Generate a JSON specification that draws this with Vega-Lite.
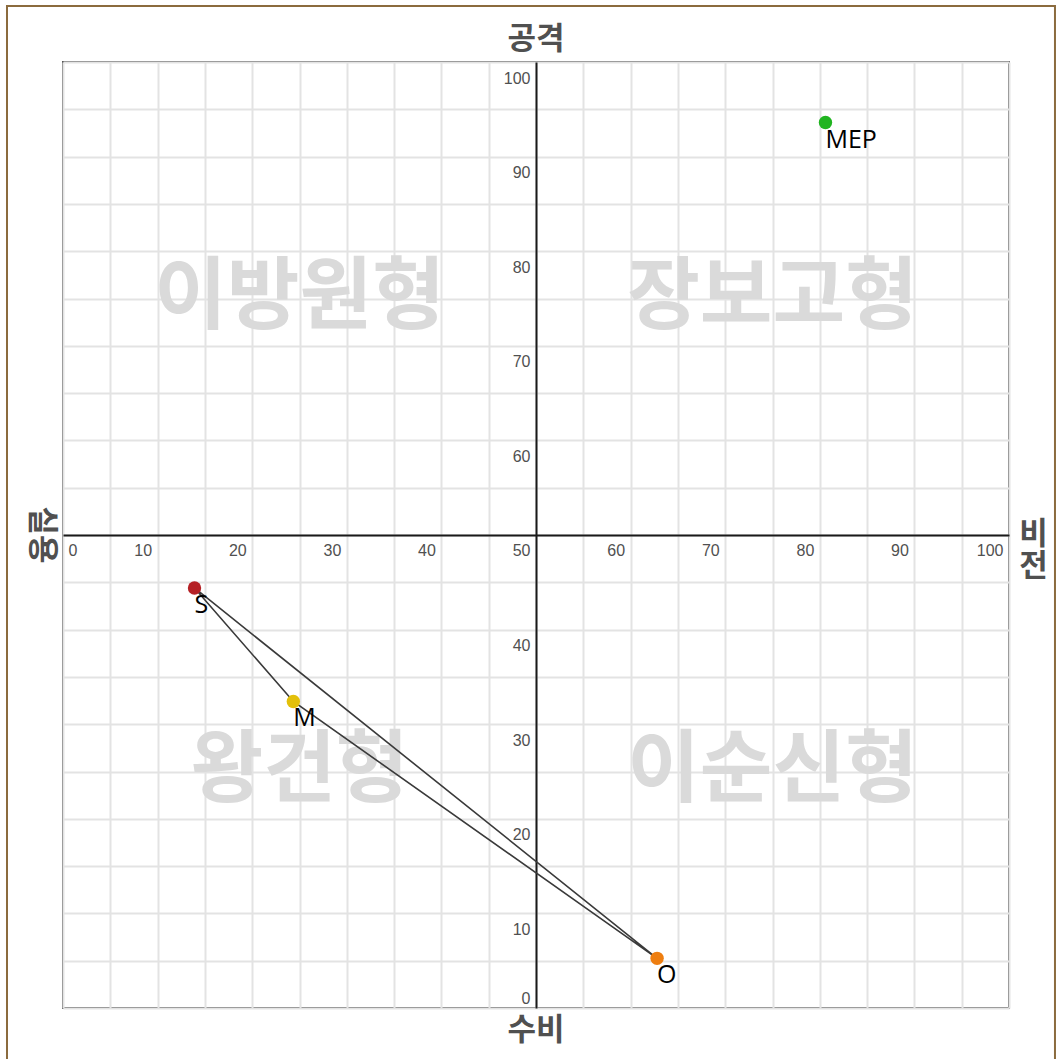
{
  "$schema": "https://vega.github.io/schema/vega-lite/v6.json",
  "width": 946,
  "height": 946,
  "autosize": {"type": "none"},
  "padding": {"left": 63, "top": 62, "right": 53, "bottom": 51},
  "background": "white",
  "config": {"view": {"stroke": "#555555", "strokeWidth": 2}},
  "datasets": {
    "points": [
      {"name": "S", "x": 13.9, "y": 44.4},
      {"name": "M", "x": 24.35, "y": 32.4},
      {"name": "O", "x": 62.8, "y": 5.25},
      {"name": "MEP", "x": 80.6, "y": 93.6}
    ],
    "path": [
      {"name": "S", "ord": 1, "x": 13.9, "y": 44.4},
      {"name": "M", "ord": 2, "x": 24.35, "y": 32.4},
      {"name": "O", "ord": 3, "x": 62.8, "y": 5.25},
      {"name": "S", "ord": 4, "x": 13.9, "y": 44.4}
    ],
    "quadrants": [
      {"label": "이방원형", "x": 25, "y": 75},
      {"label": "장보고형", "x": 75, "y": 75},
      {"label": "왕건형", "x": 25, "y": 25},
      {"label": "이순신형", "x": 75, "y": 25}
    ]
  },
  "layer": [
    {
      "data": {"name": "quadrants"},
      "mark": {"type": "text", "font": "Noto Sans CJK KR", "fontWeight": "bold", "fontSize": 79, "color": "#dadada", "align": "center", "baseline": "middle"},
      "encoding": {
        "x": {"field": "x", "type": "quantitative", "scale": {"domain": [0, 100], "nice": false, "zero": false},
          "axis": {"orient": "bottom", "values": [0,5,10,15,20,25,30,35,40,45,50,55,60,65,70,75,80,85,90,95,100], "grid": true, "gridColor": "#e3e3e3", "gridWidth": 2, "labels": false, "ticks": false, "domain": false, "title": null}},
        "y": {"field": "y", "type": "quantitative", "scale": {"domain": [0, 100], "nice": false, "zero": false},
          "axis": {"orient": "left", "values": [0,5,10,15,20,25,30,35,40,45,50,55,60,65,70,75,80,85,90,95,100], "grid": true, "gridColor": "#e3e3e3", "gridWidth": 2, "labels": false, "ticks": false, "domain": false, "title": null}},
        "text": {"field": "label"}
      }
    },
    {
      "data": {"name": "path"},
      "mark": {"type": "line", "color": "#3a3a3a", "strokeWidth": 1.6},
      "encoding": {
        "x": {"field": "x", "type": "quantitative", "axis": null},
        "y": {"field": "y", "type": "quantitative", "axis": null},
        "order": {"field": "ord", "type": "quantitative"}
      }
    },
    {
      "data": {"name": "points"},
      "mark": {"type": "point", "filled": true, "size": 180, "opacity": 1},
      "encoding": {
        "x": {"field": "x", "type": "quantitative",
          "axis": {"orient": "bottom", "offset": -473, "values": [0,10,20,30,40,50,60,70,80,90,100], "grid": false, "ticks": false, "tickSize": 0, "domain": true, "domainColor": "#1a1a1a", "domainWidth": 2, "labelFlush": false, "labelBound": false, "labelOverlap": false, "labelAlign": {"condition": {"test": "datum.value == 0", "value": "left"}, "value": "right"}, "labelOffset": {"condition": {"test": "datum.value == 0", "value": 5}, "value": -6}, "labelBaseline": "top", "labelPadding": 7, "labelFont": "Liberation Sans", "labelFontSize": 16, "labelColor": "#505050", "title": null}},
        "y": {"field": "y", "type": "quantitative",
          "axis": {"orient": "left", "offset": -473, "values": [0,10,20,30,40,60,70,80,90,100], "grid": false, "ticks": false, "tickSize": 0, "domain": true, "domainColor": "#1a1a1a", "domainWidth": 2, "labelFlush": false, "labelBound": false, "labelOverlap": false, "labelAlign": "right", "labelBaseline": {"condition": {"test": "datum.value == 0", "value": "alphabetic"}, "value": "top"}, "labelOffset": {"condition": {"test": "datum.value == 0", "value": -5}, "value": 8}, "labelPadding": 6, "labelFont": "Liberation Sans", "labelFontSize": 16, "labelColor": "#505050", "title": null}},
        "color": {"field": "name", "type": "nominal", "scale": {"domain": ["S", "M", "O", "MEP"], "range": ["#b52025", "#e3c00a", "#ee7e10", "#20b420"]}, "legend": null}
      }
    },
    {
      "data": {"name": "points"},
      "mark": {"type": "text", "font": "Open Sans", "fontSize": 25, "color": "#000000", "align": "left", "baseline": "top", "dy": 5},
      "encoding": {
        "x": {"field": "x", "type": "quantitative", "axis": null},
        "y": {"field": "y", "type": "quantitative", "axis": null},
        "text": {"field": "name"}
      }
    },
    {
      "data": {"values": [{}]},
      "mark": {"type": "text", "text": "공격", "font": "Noto Sans CJK KR", "fontWeight": "bold", "fontSize": 31, "color": "#505050", "align": "center", "baseline": "middle", "clip": false},
      "encoding": {
        "x": {"datum": 50, "type": "quantitative", "axis": null},
        "y": {"datum": 102.3, "type": "quantitative", "axis": null}
      }
    },
    {
      "data": {"values": [{}]},
      "mark": {"type": "text", "text": "수비", "font": "Noto Sans CJK KR", "fontWeight": "bold", "fontSize": 31, "color": "#505050", "align": "center", "baseline": "middle", "clip": false},
      "encoding": {
        "x": {"datum": 50, "type": "quantitative", "axis": null},
        "y": {"datum": -2.4, "type": "quantitative", "axis": null}
      }
    },
    {
      "data": {"values": [{}]},
      "mark": {"type": "text", "text": "실용", "angle": 90, "font": "Noto Sans CJK KR", "fontWeight": "bold", "fontSize": 31, "color": "#505050", "align": "center", "baseline": "middle", "clip": false},
      "encoding": {
        "x": {"datum": -2.3, "type": "quantitative", "axis": null},
        "y": {"datum": 50, "type": "quantitative", "axis": null}
      }
    },
    {
      "data": {"values": [{}]},
      "mark": {"type": "text", "text": ["비", "전"], "lineHeight": 32, "font": "Noto Sans CJK KR", "fontWeight": "bold", "fontSize": 31, "color": "#505050", "align": "center", "baseline": "middle", "clip": false},
      "encoding": {
        "x": {"datum": 102.6, "type": "quantitative", "axis": null},
        "y": {"datum": 50, "type": "quantitative", "axis": null}
      }
    },
    {
      "data": {"values": [{}]},
      "mark": {"type": "rect", "filled": false, "stroke": "#8b6b3e", "strokeWidth": 2, "clip": false},
      "encoding": {
        "x": {"datum": -5.92, "type": "quantitative", "axis": null},
        "x2": {"datum": 104.86},
        "y": {"datum": 105.92, "type": "quantitative", "axis": null},
        "y2": {"datum": -6.2}
      }
    }
  ],
  "resolve": {"axis": {"x": "independent", "y": "independent"}}
}
